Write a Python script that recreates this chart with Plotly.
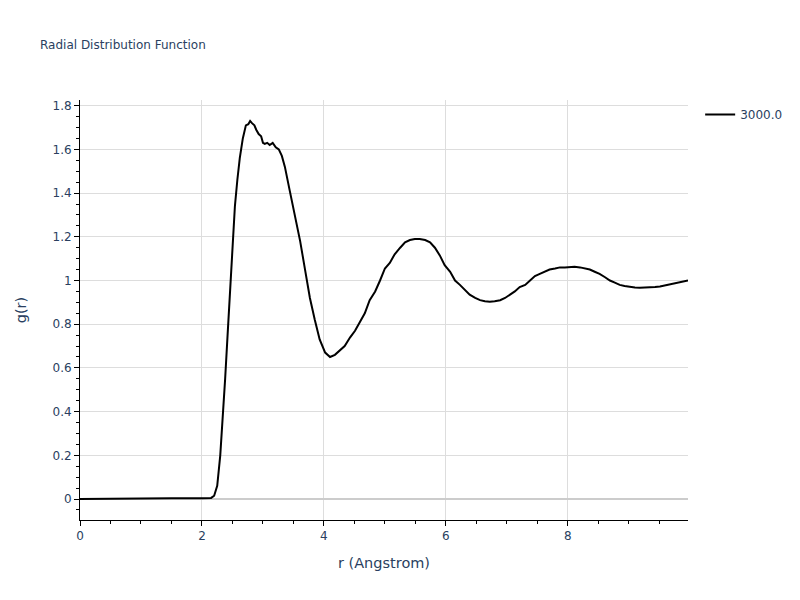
import plotly.graph_objects as go

r = [0.0, 0.5, 1.0, 1.5, 2.0, 2.1, 2.15, 2.2, 2.25, 2.3, 2.34, 2.38, 2.42, 2.46, 2.5, 2.54, 2.58, 2.62, 2.67, 2.72, 2.76, 2.79, 2.82, 2.86, 2.89, 2.93, 2.97, 3.0, 3.03, 3.07, 3.11, 3.16, 3.21, 3.26, 3.31, 3.36, 3.44, 3.52, 3.61, 3.69, 3.77, 3.85, 3.93, 4.02, 4.10, 4.18, 4.26, 4.34, 4.43, 4.51, 4.59, 4.67, 4.75, 4.84, 4.92, 5.0, 5.08, 5.16, 5.25, 5.33, 5.41, 5.49, 5.57, 5.66, 5.74, 5.82, 5.90, 5.98, 6.07, 6.15, 6.23, 6.31, 6.39, 6.48, 6.56, 6.64, 6.72, 6.80, 6.89, 6.97, 7.05, 7.13, 7.21, 7.30, 7.38, 7.46, 7.54, 7.62, 7.70, 7.79, 7.87, 7.95, 8.03, 8.11, 8.20, 8.28, 8.36, 8.44, 8.52, 8.61, 8.69, 8.77, 8.85, 8.93, 9.02, 9.10, 9.18, 9.26, 9.34, 9.43, 9.51, 9.59, 9.67, 9.75, 9.84, 9.97]
g = [0.0, 0.002, 0.002, 0.003, 0.003, 0.003, 0.005, 0.015, 0.06, 0.2, 0.36, 0.55, 0.75, 0.95, 1.15, 1.34, 1.46, 1.56, 1.65, 1.71, 1.715, 1.73, 1.72, 1.71, 1.69, 1.67, 1.66, 1.63, 1.625, 1.63, 1.62, 1.63, 1.61, 1.60, 1.57, 1.52, 1.41, 1.30, 1.18, 1.05, 0.92, 0.82, 0.73, 0.67, 0.65, 0.66, 0.68, 0.70, 0.74, 0.77, 0.81, 0.85, 0.91, 0.95, 1.0, 1.055, 1.08, 1.12, 1.15, 1.175, 1.185, 1.19, 1.19, 1.185, 1.175, 1.15, 1.115, 1.07, 1.04, 1.0, 0.98, 0.955, 0.935, 0.92, 0.91, 0.905, 0.903, 0.905, 0.91, 0.92, 0.935, 0.95, 0.97, 0.98, 1.0, 1.02, 1.03, 1.04, 1.05, 1.055, 1.06, 1.06, 1.063, 1.063, 1.06, 1.055, 1.05, 1.04, 1.03, 1.015, 1.0, 0.99, 0.98, 0.975, 0.97, 0.968, 0.967, 0.967, 0.967, 0.97, 0.973, 0.978, 0.98, 0.985, 0.992, 1.0]

FONT = "DejaVu Sans, Verdana, sans-serif"
TXT = "#2a3f5f"

fig = go.Figure()
fig.add_trace(go.Scatter(x=r, y=g, mode="lines", name="3000.0",
                         line=dict(color="black", width=2)))

axis_common = dict(
    showline=True, linecolor="black", linewidth=1,
    ticks="outside", tickcolor="black", ticklen=5,
    showgrid=True, gridcolor="#dddddd",
    minor=dict(ticks="outside", ticklen=3, tickcolor="black", nticks=5, showgrid=False),
    tickfont=dict(family=FONT, size=12, color=TXT),
)

fig.update_layout(
    width=800, height=600,
    font=dict(family=FONT, color=TXT),
    margin=dict(l=72, r=120, t=92, b=88),
    title=dict(text="Radial Distribution Function", font=dict(family=FONT, size=12, color=TXT),
               x=0.04, xanchor="left", y=0.938, yanchor="middle"),
    plot_bgcolor="white", paper_bgcolor="white",
    showlegend=True,
    legend=dict(font=dict(family=FONT, size=12, color=TXT), x=1.02, y=1, xanchor="left", yanchor="top"),
    xaxis=dict(title=dict(text="r (Angstrom)", font=dict(family=FONT, size=14.5, color=TXT)),
               range=[0, 9.97], zeroline=False, dtick=2, **axis_common),
    yaxis=dict(title=dict(text="g(r)", font=dict(family=FONT, size=14.5, color=TXT), standoff=22),
               range=[-0.096, 1.826], zeroline=True, zerolinecolor="#cccccc", zerolinewidth=2, dtick=0.2, **axis_common),
)

fig.write_html("out.html")
